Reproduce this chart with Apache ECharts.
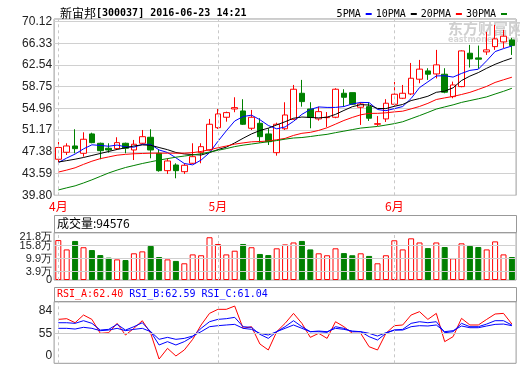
<!DOCTYPE html>
<html><head><meta charset="utf-8">
<script src="https://cdn.jsdelivr.net/npm/echarts@6/dist/echarts.min.js"></script>
<style>html,body{margin:0;padding:0;background:#fff}#c{width:520px;height:365px}</style>
</head><body><div id="c"></div>
<script>
const stockTitle = '新宙邦';
const stockCode = '[300037] 2016-06-23 14:21';
const dates = ['04-05','04-06','04-07','04-08','04-11','04-12','04-13','04-14','04-15','04-18','04-19','04-20','04-21','04-22','04-25','04-26','04-27','04-28','04-29',
  '05-03','05-04','05-05','05-06','05-09','05-10','05-11','05-12','05-13','05-16','05-17','05-18','05-19','05-20','05-23','05-24','05-25','05-26','05-27','05-30','05-31',
  '06-01','06-02','06-03','06-06','06-07','06-08','06-13','06-14','06-15','06-16','06-17','06-20','06-21','06-22','06-23'];
const opens  = [46.09,47.31,48.41,47.13,50.51,48.88,48.01,47.94,48.88,47.71,48.88,49.93,47.13,44.10,45.09,43.92,45.39,47.24,47.71,51.60,53.42,54.87,54.52,51.50,52.37,50.51,47.24,51.41,53.07,57.61,54.87,53.13,53.35,53.42,57.61,57.72,55.17,55.27,52.20,53.13,55.69,56.74,57.49,60.06,61.51,60.98,60.93,57.02,58.77,64.60,63.78,64.83,65.75,66.57,66.92];
const closes = [48.15,48.41,47.94,49.58,48.99,47.59,47.71,48.99,48.01,48.71,50.03,47.71,44.10,45.79,44.10,45.04,46.54,48.29,52.20,54.00,54.23,55.10,52.20,53.42,50.03,49.16,52.20,53.82,58.31,56.15,53.42,54.40,53.42,58.31,56.91,55.69,55.74,53.25,52.30,55.87,57.44,57.61,60.23,61.82,60.93,62.56,57.79,59.06,65.00,63.60,63.55,65.18,67.10,67.57,65.93];
const lows   = [45.44,46.84,47.13,46.54,48.88,46.09,47.24,47.71,47.13,45.96,48.76,46.26,43.92,43.52,42.77,43.52,45.27,45.39,47.59,51.38,52.65,54.30,52.08,51.20,48.99,48.58,46.72,51.20,52.95,55.27,51.50,52.83,51.73,53.25,55.27,55.57,52.08,52.78,51.90,52.60,55.27,56.60,57.30,59.36,59.94,60.20,57.61,56.74,58.66,62.10,61.90,64.30,65.18,65.50,64.30];
const highs  = [49.11,48.88,51.33,50.80,50.73,48.99,48.88,49.93,48.99,49.46,51.20,51.33,47.71,46.26,45.39,45.39,48.88,48.88,53.13,54.87,54.40,56.91,56.57,54.70,53.25,51.50,52.48,56.04,59.06,59.94,56.04,55.27,54.33,58.49,58.31,57.72,56.04,56.04,53.63,56.58,59.59,59.06,62.90,63.43,61.98,65.18,61.98,59.64,65.09,66.05,65.93,68.32,69.54,68.67,67.27];
// volume in 万
const volumes = [18.4,14.1,18.0,15.1,13.8,11.5,10.3,9.5,9.2,12.3,13.2,15.7,10.6,9.5,8.8,7.7,11.8,11.4,19.7,16.6,11.8,13.5,16.6,15.1,12.0,11.5,14.6,16.4,17.3,18.0,14.1,12.3,11.4,14.6,12.4,11.4,12.3,11.1,7.7,11.4,18.3,14.1,19.2,17.3,14.7,17.3,15.2,10.0,16.9,15.7,15.2,14.1,17.8,11.8,10.6];
const volNow = 94576;
// moving-average values for days whose window starts before the chart
const ma5Lead  = [45.5,46.3,47.0,47.9];
const ma10Lead = [45.6,45.85,46.1,46.4,46.75,47.1,47.45,47.8,48.1];
const ma20Lead = [43.85,44.2,44.6,45.2,45.75,46.2,46.5,46.8,46.95,47.05,47.1,47.15,47.15,47.15,47.15,47.15,47.25,47.45,47.75];
const ma30Lead = [40.73,41.1,41.45,41.95,42.5,43.1,43.7,44.2,44.65,45.0,45.35,45.65,45.95,46.2,46.45,46.65,46.85,47.05,47.35,47.65,47.95,48.3,48.55,48.75,48.95,49.15,49.35,49.6,49.8];
const rsiA = [72.9,73.8,68.6,78.5,72.9,55.0,55.8,67.8,52.8,61.4,71.2,55.0,22.0,35.7,25.9,33.6,47.3,65.7,80.6,85.8,85.8,90.0,61.4,63.5,41.3,33.6,57.1,67.8,80.6,67.8,49.8,55.0,48.5,69.9,63.5,55.0,55.0,37.8,33.6,55.0,64.8,65.7,78.5,82.8,72.9,80.6,44.3,50.7,74.2,65.7,65.7,72.9,79.8,80.6,66.9];
const rsiB = [68.6,68.6,67.8,71.2,67.8,59.2,60.1,66.5,59.2,63.5,68.6,57.1,40.0,44.3,40.0,44.3,50.7,61.4,69.9,72.9,73.8,75.5,63.5,62.6,53.7,48.5,57.1,63.5,71.2,63.5,57.1,57.1,56.2,63.5,61.4,57.1,57.1,50.7,46.4,55.0,59.2,60.1,67.8,69.9,68.6,69.9,55.8,57.1,67.8,63.5,63.5,66.9,71.2,71.2,65.6];
const rsiC = [61.4,61.4,60.5,62.7,61.4,58.4,59.2,61.4,58.4,60.1,61.4,57.1,47.3,49.8,47.3,48.5,51.5,57.1,63.5,64.8,65.7,66.5,61.4,60.1,55.0,52.8,57.1,61.4,65.7,61.4,57.1,57.9,57.1,61.4,60.1,57.9,57.1,55.0,51.5,55.8,59.2,59.2,63.5,64.8,64.4,65.7,57.1,58.4,64.4,62.2,62.2,64.4,66.5,66.9,64.8];
const rsiNow = {A:'62.40', B:'62.59', C:'61.04'};
const priceTickStart = 39.80, priceTickStep = 3.79;
const volTickValues = [0, 3.9, 9.9, 15.8, 21.8];
const volTickLabels = ['0','3.9万','9.9万','15.8万','21.8万'];
const rsiTickLabels = ['0','55','84'];
const rsiTickValues = [55, 84];
const legendNames = ['5PMA','10PMA','20PMA','30PMA'];

function movingAvg(n, lead){
  return closes.map((c,i)=>{
    if(i < n-1) return lead[i];
    let s=0; for(let k=i-n+1;k<=i;k++) s+=closes[k];
    return +(s/n).toFixed(3);
  });
}
const ma5=movingAvg(5,ma5Lead), ma10=movingAvg(10,ma10Lead), ma20=movingAvg(20,ma20Lead), ma30=movingAvg(30,ma30Lead);
const monthStarts = dates.filter((d,i)=> i===0 || d.slice(0,2)!==dates[i-1].slice(0,2));

const L=54.1, W=462;
const RSI_MIN=16.5, RSI_MAX=95.6;
const mono='"DejaVu Sans Mono", monospace';
const cjk='"Noto Sans CJK SC", sans-serif';
const sans='"Liberation Sans", Arial, sans-serif';
const monthLines = monthStarts.map(d=>({xAxis:d, lineStyle:{color:'#c8c8c8', type:[3,3], width:1}}));
const baseX = (gi)=>({type:'category', gridIndex:gi, data:dates, boundaryGap:true,
  axisLine:{show:false}, axisTick:{show:false}, splitLine:{show:false}, axisLabel:{show:false}});

const baseGraphic = [
  {type:'text', left:448, top:21, z:0, silent:true, style:{text:'东方财富网', fontFamily:cjk, fontSize:15, fontWeight:'bold', fill:'#cfcfcf'}},
  {type:'text', left:448, top:36, z:0, silent:true, style:{text:'eastmoney.com', fontFamily:'"DejaVu Sans", sans-serif', fontSize:8, fontWeight:'bold', fill:'#d6d6d6'}},
  {type:'rect', z:5, silent:true, shape:{x:54.5, y:215.5, width:462, height:17.2}, style:{fill:'none', stroke:'#999', lineWidth:1}},
  {type:'text', left:57, top:217, z:6, style:{text:'成交量:'+volNow, fontFamily:cjk, fontSize:12, fill:'#000'}},
  {type:'rect', z:5, silent:true, shape:{x:54.5, y:287.5, width:462, height:14.2}, style:{fill:'none', stroke:'#999', lineWidth:1}},
  {type:'text', left:57, top:289, z:6, style:{text:'{a|RSI_A:'+rsiNow.A+'} {b|RSI_B:'+rsiNow.B+'} {b|RSI_C:'+rsiNow.C+'}',
    rich:{a:{fontFamily:mono,fontSize:10,fill:'#f00',color:'#f00'}, b:{fontFamily:mono,fontSize:10,fill:'#00f',color:'#00f'}}, fontFamily:mono, fontSize:10}}
];

const chart = echarts.init(document.getElementById('c'), null, {renderer:'canvas'});
chart.setOption({
  animation:false,
  backgroundColor:'#fff',
  title:{left:55, top:2, text:'{c|'+stockTitle+'}{a|'+stockCode+'}',
    textStyle:{rich:{c:{fontFamily:cjk,fontSize:12,color:'#000',fontWeight:'normal'},a:{fontFamily:mono,fontSize:10,color:'#000'}}}},
  legend:{right:8, top:4, width:260, data:legendNames, align:'right', icon:'rect', itemWidth:6, itemHeight:2, itemGap:4,
    textStyle:{fontFamily:mono,fontSize:10,color:'#000'}},
  grid:[
    {left:L, top:19, width:W, height:176.3, show:true, borderColor:'#999', borderWidth:1, backgroundColor:'transparent'},
    {left:L, top:232.7, width:W, height:47.3, show:true, borderColor:'#999', borderWidth:1},
    {left:L, top:301.7, width:W, height:61.6, show:true, borderColor:'#999', borderWidth:1}
  ],
  xAxis:[
    Object.assign(baseX(0), {axisLabel:{show:true, interval:0, color:'#f00', fontFamily:cjk, fontSize:12, margin:5,
      formatter:(v)=> monthStarts.includes(v) ? (+v.slice(0,2))+'月' : ''}}),
    baseX(1), baseX(2)
  ],
  yAxis:[
    {type:'value', gridIndex:0, min:priceTickStart, max:70.57, interval:priceTickStep, scale:true,
      axisLine:{show:false}, axisTick:{show:false},
      axisLabel:{showMaxLabel:false, margin:2, color:'#222', fontFamily:sans, fontSize:12, formatter:v=>v.toFixed(2)},
      splitLine:{lineStyle:{color:'#d0d0d0', width:1}}},
    {type:'value', gridIndex:1, min:0, max:21.8, axisLine:{show:false}, axisTick:{show:false}, splitLine:{show:false},
      axisLabel:{show:false}},
    {type:'value', gridIndex:2, min:RSI_MIN, max:RSI_MAX, axisLine:{show:false}, axisTick:{show:false}, splitLine:{show:false},
      axisLabel:{customValues:[RSI_MIN].concat(rsiTickValues), hideOverlap:false, showMinLabel:true, showMaxLabel:true, margin:2, color:'#222', fontFamily:sans, fontSize:12,
        formatter:(v)=> v===RSI_MIN ? '{low|'+rsiTickLabels[0]+'}' : rsiTickLabels[rsiTickValues.indexOf(v)+1],
        rich:{low:{padding:[0,0,16,0],fontFamily:sans,fontSize:12,color:'#222'}}}}
  ],
  graphic: baseGraphic,
  series:[
    {type:'candlestick', name:'K', xAxisIndex:0, yAxisIndex:0, barWidth:6, z:2,
      data: dates.map((d,i)=>[opens[i],closes[i],lows[i],highs[i]]),
      itemStyle:{color:'#fff', color0:'#008000', borderColor:'#f00', borderColor0:'#008000', borderWidth:1},
      markLine:{silent:true, symbol:'none', label:{show:false}, data:monthLines}},
    {type:'line', name:'5PMA', xAxisIndex:0, yAxisIndex:0, data:ma5, symbol:'none', z:3, lineStyle:{width:1,color:'#0000ff'}, itemStyle:{color:'#0000ff'}},
    {type:'line', name:'10PMA', xAxisIndex:0, yAxisIndex:0, data:ma10, symbol:'none', z:3, lineStyle:{width:1,color:'#000'}, itemStyle:{color:'#000'}},
    {type:'line', name:'20PMA', xAxisIndex:0, yAxisIndex:0, data:ma20, symbol:'none', z:3, lineStyle:{width:1,color:'#f00'}, itemStyle:{color:'#f00'}},
    {type:'line', name:'30PMA', xAxisIndex:0, yAxisIndex:0, data:ma30, symbol:'none', z:3, lineStyle:{width:1,color:'#008000'}, itemStyle:{color:'#008000'}},
    {type:'bar', name:'VOL', xAxisIndex:1, yAxisIndex:1, barWidth:6,
      data: volumes.map((v,i)=> closes[i]>=opens[i]
        ? {value:v, itemStyle:{color:'#fff', borderColor:'#f00', borderWidth:1}}
        : {value:v, itemStyle:{color:'#008000', borderColor:'#008000', borderWidth:1}}),
      markLine:{silent:true, symbol:'none', label:{show:false}, lineStyle:{color:'#d0d0d0', type:'solid', width:1},
        data: volTickValues.slice(1,-1).map(v=>({yAxis:v})).concat(monthLines)}},
    {type:'line', name:'RSI_A', xAxisIndex:2, yAxisIndex:2, data:rsiA, symbol:'none', lineStyle:{width:1,color:'#f00'},
      markLine:{silent:true, symbol:'none', label:{show:false}, lineStyle:{color:'#c8c8c8', type:'solid', width:1},
        data:[{yAxis:rsiTickValues[0]}].concat(monthLines)}},
    {type:'line', name:'RSI_B', xAxisIndex:2, yAxisIndex:2, data:rsiB, symbol:'none', lineStyle:{width:1,color:'#00f'}},
    {type:'line', name:'RSI_C', xAxisIndex:2, yAxisIndex:2, data:rsiC, symbol:'none', lineStyle:{width:1,color:'#00f'}}
  ]
});
// volume axis labels placed through the volume axis scale
const volLabelGraphic = volTickValues.map((v,i)=>{
  const y = chart.convertToPixel({yAxisIndex:1}, v) + (i===volTickValues.length-1 ? 4 : 0);
  return {type:'text', x:52, y:y, z:6, silent:true,
    style:{text:volTickLabels[i], fontFamily:sans, fontSize:11, fill:'#222', align:'right', verticalAlign:'middle'}};
});
chart.setOption({graphic: baseGraphic.concat(volLabelGraphic)});
</script></body></html>
